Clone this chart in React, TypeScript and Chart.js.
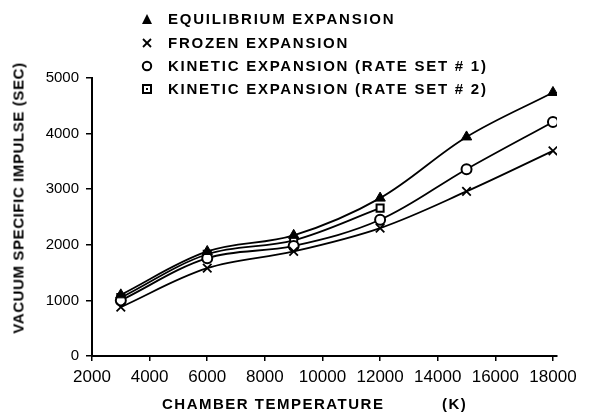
import React, { useEffect, useRef } from "react";
import { Chart, registerables } from "chart.js";

Chart.register(...registerables);

const temperatures = [3000, 6000, 9000, 12000, 15000, 18000];
const equilibrium = [1100, 1880, 2170, 2840, 3940, 4740];
const frozen = [880, 1580, 1880, 2300, 2960, 3690];
const kineticRate1 = [1000, 1760, 1980, 2450, 3360, 4210];
const kineticRate2Temps = [3000, 6000, 9000, 12000];
const kineticRate2 = [1050, 1830, 2080, 2660];

const xTicks = [2000, 4000, 6000, 8000, 10000, 12000, 14000, 16000, 18000];
const yTicks = [0, 1000, 2000, 3000, 4000, 5000];

const legendLabels = [
  "EQUILIBRIUM EXPANSION",
  "FROZEN EXPANSION",
  "KINETIC EXPANSION (RATE SET # 1)",
  "KINETIC EXPANSION (RATE SET # 2)",
];
const xTitle = "CHAMBER TEMPERATURE";
const xUnit = "(K)";
const yTitle = "VACUUM SPECIFIC IMPULSE (SEC)";

const FONT = "'Liberation Sans', Arial, sans-serif";

function pts(xs: number[], ys: number[]) {
  return ys.map((y, i) => ({ x: xs[i], y }));
}

function Symbol({ kind }: { kind: number }) {
  return (
    <svg width={12} height={12} viewBox="0 0 12 12" style={{ display: "block" }}>
      {kind === 0 && <polygon points="6,1 11,11 1,11" fill="#000" />}
      {kind === 1 && (
        <g stroke="#000" strokeWidth={1.8}>
          <line x1="2" y1="2" x2="10" y2="10" />
          <line x1="10" y1="2" x2="2" y2="10" />
        </g>
      )}
      {kind === 2 && <circle cx="6" cy="6" r="4.2" fill="none" stroke="#000" strokeWidth={2} />}
      {kind === 3 && (
        <g>
          <rect x="2" y="2" width="8" height="8" fill="none" stroke="#000" strokeWidth={2} />
          <rect x="5" y="5" width="2" height="2" fill="#000" />
        </g>
      )}
    </svg>
  );
}

export default function App() {
  const ref = useRef<HTMLCanvasElement | null>(null);

  useEffect(() => {
    if (!ref.current) return;
    const common = {
      borderColor: "#000",
      borderWidth: 1.8,
      pointBorderColor: "#000",
      tension: 0.35,
      fill: false,
    };
    const chart = new Chart(ref.current, {
      type: "line",
      data: {
        datasets: [
          {
            ...common,
            label: legendLabels[0],
            data: pts(temperatures, equilibrium),
            pointStyle: "triangle",
            pointRadius: 6,
            pointBackgroundColor: "#000",
            pointBorderWidth: 1,
          },
          {
            ...common,
            label: legendLabels[1],
            data: pts(temperatures, frozen),
            pointStyle: "crossRot",
            pointRadius: 6,
            pointBorderWidth: 1.8,
            pointBackgroundColor: "#000",
          },
          {
            ...common,
            label: legendLabels[2],
            data: pts(temperatures, kineticRate1),
            pointStyle: "circle",
            pointRadius: 5,
            pointBorderWidth: 2,
            pointBackgroundColor: "#fff",
          },
          {
            ...common,
            label: legendLabels[3],
            data: pts(kineticRate2Temps, kineticRate2),
            pointStyle: "rect",
            pointRadius: 5,
            pointBorderWidth: 2,
            pointBackgroundColor: "#fff",
          },
        ],
      },
      options: {
        responsive: false,
        animation: false,
        layout: { padding: { left: 0, right: 38, top: 78, bottom: 0 } },
        plugins: { legend: { display: false }, tooltip: { enabled: false } },
        scales: {
          x: {
            type: "linear",
            min: 2000,
            max: 18140,
            afterFit: (s: any) => {
              s.height = 58;
            },
            afterBuildTicks: (s: any) => {
              s.ticks = xTicks.map((v) => ({ value: v }));
            },
            grid: {
              display: true,
              drawOnChartArea: false,
              drawTicks: true,
              tickLength: 5,
              color: "#000",
              lineWidth: 1.5,
            },
            border: { display: true, color: "#000", width: 2 },
            ticks: {
              color: "#000",
              padding: 6,
              maxRotation: 0,
              autoSkip: false,
              font: { family: FONT, size: 17, weight: "normal" },
              callback: (v: any) => String(v),
            },
          },
          y: {
            type: "linear",
            min: 0,
            max: 5000,
            afterFit: (s: any) => {
              s.width = 92;
            },
            afterBuildTicks: (s: any) => {
              s.ticks = yTicks.map((v) => ({ value: v }));
            },
            grid: {
              display: true,
              drawOnChartArea: false,
              drawTicks: true,
              tickLength: 6,
              color: "#000",
              lineWidth: 1.5,
            },
            border: { display: true, color: "#000", width: 2 },
            ticks: {
              color: "#000",
              padding: 7,
              autoSkip: false,
              font: { family: FONT, size: 15, weight: "normal" },
              callback: (v: any) => String(v),
            },
          },
        },
      },
    } as any);
    return () => chart.destroy();
  }, []);

  const rowY = [17, 41, 64, 87];
  const textStyle: React.CSSProperties = {
    fontFamily: FONT,
    fontWeight: "bold",
    fontSize: 15,
    letterSpacing: 1.5,
    color: "#000",
    whiteSpace: "nowrap",
    lineHeight: 1,
  };

  return (
    <div style={{ position: "absolute", left: 0, top: 0, width: 595, height: 414, background: "#fff" }}>
      <canvas ref={ref} width={595} height={414} style={{ position: "absolute", left: 0, top: 0 }} />
      {legendLabels.map((lab, i) => (
        <div key={lab} style={{ position: "absolute", left: 141, top: rowY[i] - 6, display: "flex", alignItems: "center" }}>
          <Symbol kind={i} />
          <span style={{ ...textStyle, letterSpacing: 1.75, marginLeft: 15 }}>{lab}</span>
        </div>
      ))}
      <div style={{ ...textStyle, position: "absolute", left: 162, top: 396 }}>{xTitle}</div>
      <div style={{ ...textStyle, position: "absolute", left: 442, top: 396 }}>{xUnit}</div>
      <div
        style={{
          ...textStyle,
          position: "absolute",
          left: 18,
          top: 198,
          letterSpacing: 0.6,
          transform: "translate(-50%, -50%) rotate(-90deg)",
        }}
      >
        {yTitle}
      </div>
    </div>
  );
}
